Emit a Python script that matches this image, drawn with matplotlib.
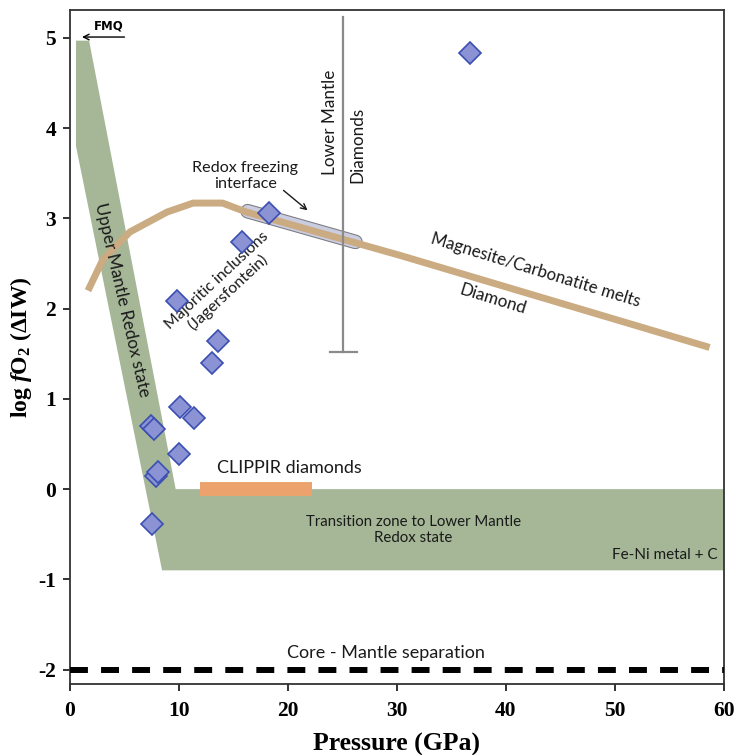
import numpy as np
import matplotlib
matplotlib.use("Agg")
import matplotlib.pyplot as plt
from matplotlib.patches import Polygon

plt.rcParams['mathtext.fontset'] = 'custom'
plt.rcParams['mathtext.rm'] = 'Liberation Serif:bold'
plt.rcParams['mathtext.it'] = 'Liberation Serif:italic:bold'
plt.rcParams['mathtext.bf'] = 'Liberation Serif:bold'
plt.rcParams['axes.unicode_minus'] = False

# redox field outline (pressure GPa, log fO2 dIW)
field_p = [0.55, 1.75, 9.7, 60.0, 60.0, 8.45, 0.55]
field_fo2 = [4.97, 4.97, 0.0, 0.0, -0.9, -0.9, 3.8]

# magnesite / carbonatite melt - diamond boundary
mgs_p = [1.65, 3.0, 5.5, 8.9, 11.3, 14.0, 16.2, 30.3, 58.7]
mgs_fo2 = [2.2, 2.54, 2.85, 3.07, 3.17, 3.17, 3.07, 2.59, 1.57]

# redox freezing interface segment
rfi_p = [16.3, 26.2]
rfi_fo2 = [3.08, 2.74]

# majoritic inclusions (Jagersfontein)
maj_p = [36.7, 18.3, 15.8, 9.8, 13.6, 13.0, 10.1, 11.4, 7.4, 7.7, 10.0, 7.9, 8.1, 7.5]
maj_fo2 = [4.83, 3.06, 2.74, 2.08, 1.64, 1.40, 0.91, 0.79, 0.70, 0.67, 0.39, 0.14, 0.19, -0.39]

# CLIPPIR diamonds range
clippir_p = [11.9, 22.2]
clippir_fo2 = 0.0

# lower mantle diamonds range
lm_p = 25.1
lm_fo2 = [1.52, 5.23]

iw_core = -2.0

x_ticks = [0, 10, 20, 30, 40, 50, 60]
y_ticks = [-2, -1, 0, 1, 2, 3, 4, 5]

fig = plt.figure(figsize=(7.4, 7.55), dpi=100)
ax = fig.add_axes([0.0946, 0.094, 0.8834, 0.8928])

green = '#a5b797'
ax.add_patch(Polygon(np.column_stack([field_p, field_fo2]), closed=True,
                     facecolor=green, edgecolor='none', zorder=1))

ax.plot(clippir_p, [clippir_fo2] * 2, color='#eba26c', lw=10, solid_capstyle='butt', zorder=2)

# redox freezing blob: grey outline, light fill
ax.plot(rfi_p, rfi_fo2, color='#7a7a80', lw=10.5, solid_capstyle='round', zorder=2)
ax.plot(rfi_p, rfi_fo2, color='#cacce0', lw=9, solid_capstyle='round', zorder=2)

ax.plot(mgs_p, mgs_fo2, color='#cbab82', lw=5, solid_capstyle='butt', zorder=3)

ax.plot([lm_p, lm_p], lm_fo2, color='#8a8a8a', lw=1.6, zorder=3)
ax.plot([lm_p - 1.2, lm_p + 1.2], [lm_fo2[0]] * 2, color='#8a8a8a', lw=1.6, zorder=3)

ax.plot(maj_p, maj_fo2, linestyle='none', marker='D', markersize=11,
        markerfacecolor='#8c93d4', markeredgecolor='#3b4fb2', markeredgewidth=1.2, zorder=4)

ax.axhline(iw_core, color='black', lw=4.3, linestyle=(0, (3, 2.2)), zorder=3)

txt = dict(family='Lato', color='#1a1a1a')
ax.text(4.8, 2.1, 'Upper Mantle Redox state', rotation=-77, ha='center', va='center', fontsize=12.3, **txt)
ax.text(14.0, 2.24, 'Majoritic inclusions\n(Jagersfontein)', rotation=43, ha='center', va='center',
        fontsize=11.5, linespacing=1.1, **txt)
ax.text(16.1, 3.47, 'Redox freezing\ninterface', ha='center', va='center', fontsize=11.6,
        linespacing=1.2, **txt)
ax.annotate('', xy=(22.0, 3.07), xytext=(19.4, 3.33),
            arrowprops=dict(arrowstyle='->', color='#1a1a1a', lw=1))
ax.text(23.9, 4.07, 'Lower Mantle', rotation=90, ha='center', va='center', fontsize=12.3, **txt)
ax.text(26.4, 3.81, 'Diamonds', rotation=90, ha='center', va='center', fontsize=12.3, **txt)
ax.text(42.7, 2.43, 'Magnesite/Carbonatite melts', rotation=-17, ha='center', va='center', fontsize=12.2, **txt)
ax.text(38.8, 2.1, 'Diamond', rotation=-17, ha='center', va='center', fontsize=12.3, **txt)
ax.text(20.1, 0.23, 'CLIPPIR diamonds', ha='center', va='center', fontsize=13, **txt)
ax.text(31.5, -0.45, 'Transition zone to Lower Mantle\nRedox state', ha='center', va='center',
        fontsize=10.8, linespacing=1.2, **txt)
ax.text(54.6, -0.73, 'Fe-Ni metal + C', ha='center', va='center', fontsize=11, **txt)
ax.text(29.0, -1.82, 'Core - Mantle separation', ha='center', va='center', fontsize=13, **txt)

ax.text(3.6, 5.13, 'FMQ', ha='center', va='center', fontsize=8.5, fontweight='bold', family='DejaVu Sans')
ax.annotate('', xy=(1.1, 5.01), xytext=(5.0, 5.01),
            arrowprops=dict(arrowstyle='->', color='black', lw=1, shrinkA=0, shrinkB=0))

ax.set_xlim(0, 60)
ax.set_ylim(-2.16, 5.31)
ax.set_xticks(x_ticks)
ax.set_yticks(y_ticks)
for lab in ax.get_xticklabels() + ax.get_yticklabels():
    lab.set_family('Liberation Serif')
    lab.set_fontweight('bold')
    lab.set_fontsize(15.5)
ax.tick_params(direction='out', length=5, width=1.3, color='#222222')
ax.tick_params(axis='x', pad=7)
ax.tick_params(axis='y', pad=5)
for s in ax.spines.values():
    s.set_linewidth(1.3)
    s.set_color('#333333')

ax.set_xlabel('Pressure (GPa)', family='Liberation Serif', fontweight='bold', fontsize=18.5, labelpad=9)
ax.set_ylabel('log $\\mathit{f}$O$_2$ (ΔIW)', family='Liberation Serif', fontweight='bold',
              fontsize=17, labelpad=3)

fig.savefig('out.png', dpi=100)
